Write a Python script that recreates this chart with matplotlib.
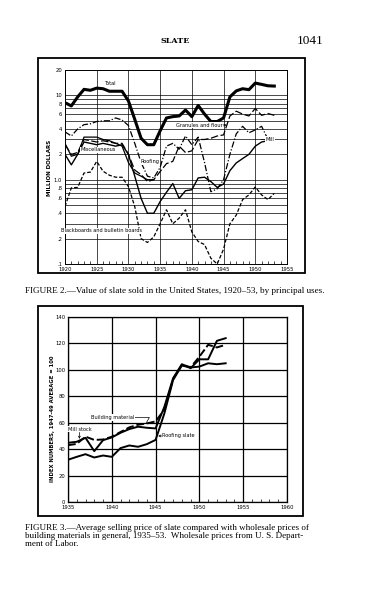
import matplotlib.pyplot as plt
from matplotlib.patches import Rectangle
from matplotlib.ticker import FixedLocator, NullFormatter

# --- Figure 2 data (million dollars) ---
years_a = list(range(1920, 1954))
total = [8.2, 7.5, 9.6, 11.8, 11.5, 12.2, 12.0, 11.2, 11.2, 11.2,
         8.6, 5.2, 3.1, 2.6, 2.6, 3.8, 5.4, 5.6, 5.7, 6.7,
         5.6, 7.6, 6.0, 4.9, 4.9, 5.4, 9.6, 11.3, 12.0, 11.7,
         14.0, 13.5, 13.0, 12.9]
granules = [2.6, 2.0, 2.1, 3.0, 2.9, 2.8, 2.9, 2.8, 2.7, 2.7,
            2.0, 1.3, 1.15, 0.95, 1.0, 1.25, 1.55, 1.65, 2.5, 2.1,
            2.2, 3.0, 3.0, 3.1, 3.3, 3.4, 5.7, 6.5, 6.0, 5.7,
            7.0, 5.8, 6.1, 5.8]
mill = [2.0, 1.5, 2.0, 2.8, 2.7, 2.6, 2.7, 2.6, 2.5, 2.6,
        2.0, 1.1, 0.6, 0.4, 0.4, 0.55, 0.71, 0.9, 0.6, 0.74,
        0.76, 1.05, 1.07, 0.95, 0.81, 0.89, 1.28, 1.58, 1.78, 2.0,
        2.5, 2.8, 2.9, 3.0]
blackboards = [0.48, 0.8, 0.81, 1.2, 1.23, 1.65, 1.26, 1.13, 1.07, 1.07,
               0.83, 0.48, 0.2, 0.18, 0.21, 0.3, 0.44, 0.3, 0.35, 0.44,
               0.24, 0.185, 0.17, 0.117, 0.1, 0.15, 0.3, 0.38, 0.58, 0.66,
               0.82, 0.66, 0.58, 0.69]
years_roof = list(range(1920, 1953))
roofing = [3.7, 3.3, 4.0, 4.5, 4.6, 4.9, 5.0, 5.0, 5.4, 5.1,
           4.4, 2.7, 1.6, 1.1, 1.05, 1.4, 2.5, 2.7, 2.3, 3.3,
           2.6, 3.2, 1.6, 0.72, 0.78, 1.0, 2.0, 3.5, 4.3, 3.6,
           3.9, 4.3, 3.0]
years_misc = list(range(1920, 1935))
misc = [2.7, 1.9, 2.0, 3.2, 3.2, 3.2, 3.0, 2.9, 2.7, 2.5,
        1.6, 1.2, 1.1, 1.0, 1.0]
ytick_vals = [0.1, 0.2, 0.4, 0.6, 0.8, 1, 2, 4, 6, 8, 10, 20]
ytick_labels = ['.1', '.2', '.4', '.6', '.8', '1.0', '2', '4', '6', '8', '10', '20']
ygrid_vals = [0.3, 0.5, 0.7, 0.9, 3, 5, 7, 9]

# --- Figure 3 data (index, 1947-49 = 100) ---
years_b = list(range(1935, 1954))
roofing_slate = [32, 34.2, 36.2, 33.7, 35.2, 34.2, 40.8, 42.8, 41.8, 43.8,
                 47, 67, 92.4, 103.3, 101.8, 102.5, 105, 104.3, 105]
mill_stock = [44.8, 45.6, 48.6, 38.5, 46.8, 48.9, 52.4, 55.2, 57, 56.2,
              55.7, 72, 93.7, 104.3, 101.3, 108, 108, 122, 124]
building = [43, 44, 49.5, 47, 47.3, 49.4, 53, 56.5, 58.5, 59.5,
            61, 70, 93, 104, 102, 110, 119, 117, 119]

fig = plt.figure(figsize=(3.75, 6), dpi=100)
fig.patch.set_facecolor('white')

serif = 'Liberation Serif'
tick_fs = 3.8
lab_fs = 3.6

# page header
fig.text(0.467, 0.932, 'SLATE', ha='center', va='center', fontsize=5.8,
         fontweight='bold', family='DejaVu Serif')
fig.text(0.826, 0.932, '1041', ha='center', va='center', fontsize=9.5, family=serif)

# ---------------- Figure 2 ----------------
ax1 = fig.add_axes([0.1733, 0.56, 0.592, 0.3233])
ax1.set_yscale('log')
ax1.set_xlim(1920, 1955)
ax1.set_ylim(0.1, 20)
ax1.yaxis.set_major_locator(FixedLocator(ytick_vals))
ax1.set_yticklabels(ytick_labels)
ax1.yaxis.set_minor_locator(FixedLocator(ygrid_vals))
ax1.yaxis.set_minor_formatter(NullFormatter())
ax1.set_xticks(range(1920, 1956, 5))
ax1.set_xticks(range(1920, 1956), minor=True)
ax1.grid(True, which='major', color='black', lw=0.5)
ax1.grid(True, which='minor', axis='y', color='black', lw=0.5)
ax1.tick_params(axis='both', which='major', length=0, labelsize=tick_fs, pad=2)
ax1.tick_params(axis='y', which='minor', length=0)
ax1.tick_params(axis='x', which='minor', direction='in', length=2.5, width=0.5)
for s in ax1.spines.values():
    s.set_linewidth(0.7)

ax1.plot(years_a, total, color='black', lw=2.2)
ax1.plot(years_a, granules, color='black', lw=0.9, ls=(0, (6, 2)))
ax1.plot(years_roof, roofing, color='black', lw=0.9, ls=(0, (5, 1.5, 1, 1.5)))
ax1.plot(years_a, mill, color='black', lw=1.0)
ax1.plot(years_misc, misc, color='black', lw=0.9)
ax1.plot(years_a, blackboards, color='black', lw=0.9, ls=(0, (3, 1.5)))

box = dict(facecolor='white', edgecolor='none', pad=0.4)
ax1.text(1927.0, 14.0, 'Total', fontsize=lab_fs, ha='center', va='center', bbox=box)
ax1.annotate('Granules and flour', xy=(1945.5, 4.45), xytext=(1941.2, 4.45),
             fontsize=lab_fs, ha='center', va='center', bbox=box,
             arrowprops=dict(arrowstyle='->', lw=0.5, shrinkA=0, shrinkB=0))
ax1.text(1925.3, 2.27, 'Miscellaneous', fontsize=lab_fs, ha='center', va='center', bbox=box)
ax1.text(1933.4, 1.64, 'Roofing', fontsize=lab_fs, ha='center', va='center', bbox=box)
ax1.annotate('Mill', xy=(1950.9, 3.0), xytext=(1952.3, 3.0),
             fontsize=lab_fs, ha='center', va='center', bbox=box,
             arrowprops=dict(arrowstyle='-', lw=0.5, shrinkA=0, shrinkB=0))
ax1.text(1925.7, 0.249, 'Blackboards and bulletin boards', fontsize=lab_fs,
         ha='center', va='center', bbox=box)

fig.text(0.131, 0.72, 'MILLION DOLLARS', rotation=90, ha='center', va='center',
         fontsize=4.0, fontweight='bold')
fig.add_artist(Rectangle((0.101, 0.545), 0.712, 0.358, transform=fig.transFigure,
                         fill=False, lw=1.3, color='black'))
fig.text(0.067, 0.515,
         'FIGURE 2.\u2014Value of slate sold in the United States, 1920\u201353, by principal uses.',
         ha='left', va='center', fontsize=6.6, family=serif)

# ---------------- Figure 3 ----------------
ax2 = fig.add_axes([0.1813, 0.1633, 0.584, 0.3083])
ax2.set_xlim(1935, 1960)
ax2.set_ylim(0, 140)
ax2.set_xticks(range(1935, 1961, 5))
ax2.set_xticks(range(1935, 1961), minor=True)
ax2.set_yticks(range(0, 141, 20))
ax2.grid(True, which='major', color='black', lw=0.9)
ax2.tick_params(axis='both', which='major', length=0, labelsize=tick_fs, pad=2)
ax2.tick_params(axis='x', which='minor', direction='in', length=2.5, width=0.5)
for s in ax2.spines.values():
    s.set_linewidth(0.9)

ax2.plot(years_b, roofing_slate, color='black', lw=1.4)
ax2.plot(years_b, mill_stock, color='black', lw=1.4)
ax2.plot(years_b, building, color='black', lw=1.4, ls=(0, (4, 1.5)))

ax2.annotate('Building material', xy=(1943.9, 59.5), xytext=(1940.1, 64),
             fontsize=lab_fs, ha='center', va='center', bbox=box,
             arrowprops=dict(arrowstyle='-', lw=0.5, shrinkA=0, shrinkB=0,
                             connectionstyle='angle,angleA=0,angleB=60'))
ax2.annotate('Mill stock', xy=(1936.3, 47.8), xytext=(1936.3, 55),
             fontsize=lab_fs, ha='center', va='center', bbox=box,
             arrowprops=dict(arrowstyle='->', lw=0.5, shrinkA=0, shrinkB=0))
ax2.annotate('Roofing slate', xy=(1945.3, 50), xytext=(1947.6, 50),
             fontsize=lab_fs, ha='center', va='center', bbox=box,
             arrowprops=dict(arrowstyle='->', lw=0.5, shrinkA=0, shrinkB=0))

fig.text(0.139, 0.302, 'INDEX NUMBERS, 1947-49 AVERAGE = 100', rotation=90,
         ha='center', va='center', fontsize=3.8, fontweight='bold')
fig.add_artist(Rectangle((0.101, 0.14), 0.707, 0.35, transform=fig.transFigure,
                         fill=False, lw=1.3, color='black'))
caption3 = ('FIGURE 3.\u2014Average selling price of slate compared with wholesale prices of\n'
            'building materials in general, 1935\u201353.  Wholesale prices from U. S. Depart-\n'
            'ment of Labor.')
fig.text(0.067, 0.107, caption3, ha='left', va='center', fontsize=6.5,
         family=serif, linespacing=1.0)

fig.savefig('out.png', dpi=100)
